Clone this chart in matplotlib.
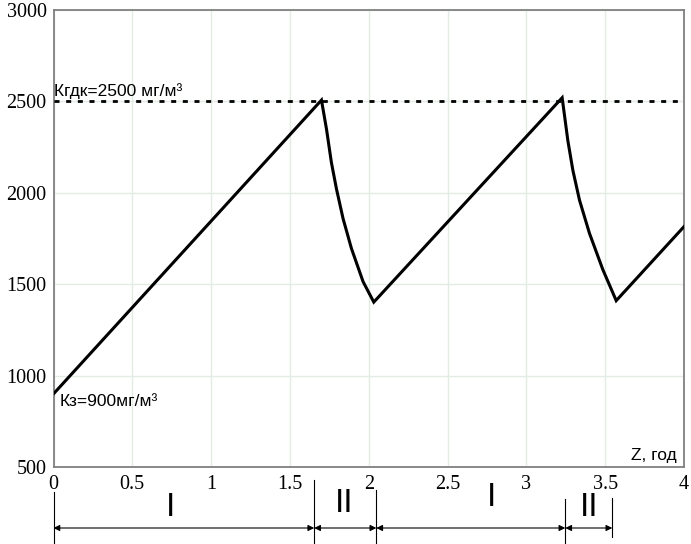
import matplotlib
matplotlib.use("Agg")
import matplotlib.pyplot as plt
from matplotlib.transforms import blended_transform_factory
import matplotlib.font_manager as fm

# ---- data ----
z_years = [0.0, 1.700, 1.732, 1.763, 1.795, 1.837, 1.890, 1.964, 2.032,
           3.227, 3.263, 3.295, 3.337, 3.400, 3.485, 3.570, 4.0]
conc = [900, 2507, 2348, 2166, 2022, 1859, 1696, 1514, 1402,
        2520, 2286, 2123, 1960, 1779, 1580, 1410, 1815]
limit_value = 2500
x_ticks = [0, 0.5, 1, 1.5, 2, 2.5, 3, 3.5, 4]
x_tick_labels = ["0", "0.5", "1", "1.5", "2", "2.5", "3", "3.5", "4"]
y_ticks = [500, 1000, 1500, 2000, 2500, 3000]
y_tick_labels = ["500", "1000", "1500", "2000", "2500", "3000"]
stage_bounds = [0.0, 1.654, 2.048, 3.247, 3.545]
stage_labels = ["I", "II", "I", "II"]
stage_label_x = [0.741, 1.843, 2.777, 3.401]
label_limit = "Кгдк=2500 мг/м³"
label_start = "Кз=900мг/м³"
x_label = "Z, год"

avail = {f.name for f in fm.fontManager.ttflist}
sans_n = ["Liberation Sans Narrow", "Liberation Sans", "DejaVu Sans"]
sans_n = [f for f in sans_n if f in avail] or ["DejaVu Sans"]
sans = ["Liberation Sans", "DejaVu Sans"]
serif = ["Liberation Serif", "DejaVu Serif"]

W, H = 691, 544
fig = plt.figure(figsize=(W / 100, H / 100), dpi=100)
ax = fig.add_axes([53.5 / W, 1 - 467 / H, (684 - 53.5) / W, (467 - 10) / H])

ax.set_xlim(0, 4)
ax.set_ylim(500, 3000)
ax.set_xticks(x_ticks)
ax.set_xticklabels(x_tick_labels, family=serif, fontsize=14.5)
ax.set_yticks(y_ticks)
ax.set_yticklabels(y_tick_labels, family=serif, fontsize=14.5)
ax.tick_params(axis="both", length=0)
ax.tick_params(axis="y", pad=5)
ax.tick_params(axis="x", pad=6)
ax.grid(True, color="#e2ece5", lw=1.0)
ax.set_axisbelow(True)
for s in ax.spines.values():
    s.set_color("#808080")
    s.set_linewidth(1.3)

ax.axhline(limit_value, color="black", lw=2.0, dashes=(1.8, 2.4), zorder=3)
ax.plot(z_years, conc, color="black", lw=2.2, solid_joinstyle="miter", zorder=4)

ax.text(0.005, 2530, label_limit, family=sans_n, fontsize=12.5, ha="left", va="baseline")
ax.text(0.04, 832, label_start, family=sans_n, fontsize=12.5, ha="left", va="baseline")
ax.text(3.955, 540, x_label, family=sans_n, fontsize=12.5, ha="right", va="baseline")

# ---- stage annotation below the axes ----
tr = blended_transform_factory(ax.transData, fig.transFigure)
def fy(py):
    return 1 - py / H

line_tops = [492, 480, 490, 499, 498]
line_bots = [544, 544, 544, 544, 537]
for xb, t, b in zip(stage_bounds, line_tops, line_bots):
    ax.plot([xb, xb], [fy(t), fy(b)], transform=tr, color="black", lw=0.8,
            clip_on=False)

arrow_y = fy(528)
for i in range(len(stage_bounds) - 1):
    ax.annotate("", xy=(stage_bounds[i + 1], arrow_y), xytext=(stage_bounds[i], arrow_y),
                xycoords=tr, textcoords=tr,
                arrowprops=dict(arrowstyle="<|-|>", mutation_scale=9, lw=0.8,
                                color="black", shrinkA=0, shrinkB=0),
                annotation_clip=False)

label_ys = [508, 503, 498, 507]
for xc, lab, ly in zip(stage_label_x, stage_labels, label_ys):
    ax.text(xc, fy(ly), lab, transform=tr, family=sans, fontsize=24,
            ha="center", va="center")

fig.savefig("out.png", dpi=100)
